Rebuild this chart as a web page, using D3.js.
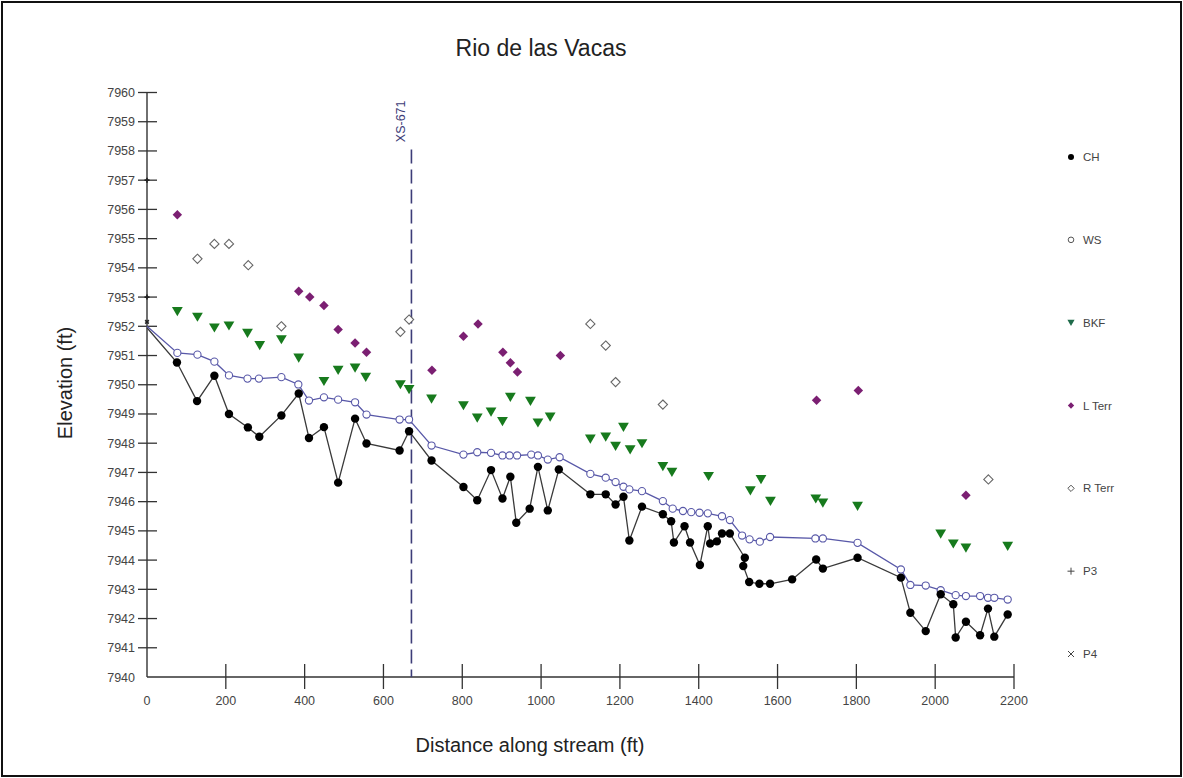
<!DOCTYPE html>
<html>
<head>
<meta charset="UTF-8">
<title>Rio de las Vacas</title>
<script src="https://d3js.org/d3.v7.min.js"></script>
<style>
  body { margin: 0; background: #fff; font-family: "Liberation Sans", Arial, sans-serif; }
  .tick-label { font-size: 12.5px; fill: #444; }
  .leg text { font-size: 11.5px; fill: #444; }
</style>
</head>
<body>
<svg width="1183" height="778"></svg>
<script>
// channel bed (CH)
const chX = [0, 76, 127, 171, 208, 256, 285, 341, 385, 411, 449, 485, 528, 557, 641, 665, 722, 803, 838, 873, 902, 922, 937, 971, 992, 1017, 1045, 1125, 1164, 1189, 1209, 1224, 1256, 1309, 1330, 1337, 1364, 1378, 1403, 1423, 1429, 1446, 1459, 1479, 1517, 1513, 1528, 1554, 1581, 1637, 1698, 1715, 1803, 1913, 1937, 1976, 2014, 2046, 2052, 2078, 2114, 2134, 2150, 2184];
const chY = [7951.95, 7950.76, 7949.44, 7950.31, 7949.0, 7948.54, 7948.22, 7948.95, 7949.7, 7948.18, 7948.55, 7946.65, 7948.84, 7947.99, 7947.75, 7948.41, 7947.41, 7946.5, 7946.05, 7947.08, 7946.11, 7946.85, 7945.28, 7945.76, 7947.19, 7945.7, 7947.1, 7946.25, 7946.25, 7945.9, 7946.17, 7944.67, 7945.83, 7945.57, 7945.33, 7944.6, 7945.16, 7944.6, 7943.83, 7945.16, 7944.57, 7944.64, 7944.91, 7944.91, 7944.08, 7943.8, 7943.25, 7943.19, 7943.19, 7943.34, 7944.02, 7943.71, 7944.08, 7943.4, 7942.2, 7941.57, 7942.83, 7942.49, 7941.35, 7941.89, 7941.43, 7942.34, 7941.38, 7942.14];

// water surface (WS)
const wsX = [0, 77, 128, 171, 208, 255, 284, 341, 384, 411, 449, 485, 528, 557, 641, 665, 722, 803, 838, 873, 902, 920, 939, 975, 992, 1017, 1047, 1125, 1164, 1189, 1209, 1224, 1256, 1309, 1334, 1360, 1381, 1402, 1423, 1459, 1479, 1510, 1529, 1555, 1581, 1696, 1715, 1803, 1913, 1937, 1976, 2014, 2052, 2078, 2114, 2134, 2150, 2184];
const wsY = [7952.0, 7951.09, 7951.03, 7950.79, 7950.32, 7950.21, 7950.21, 7950.26, 7950.01, 7949.46, 7949.57, 7949.49, 7949.4, 7948.98, 7948.81, 7948.81, 7947.92, 7947.61, 7947.69, 7947.67, 7947.58, 7947.58, 7947.58, 7947.61, 7947.58, 7947.44, 7947.52, 7946.95, 7946.82, 7946.67, 7946.51, 7946.42, 7946.36, 7946.02, 7945.76, 7945.68, 7945.64, 7945.62, 7945.6, 7945.5, 7945.37, 7944.84, 7944.71, 7944.63, 7944.79, 7944.74, 7944.74, 7944.59, 7943.68, 7943.15, 7943.13, 7942.97, 7942.8, 7942.77, 7942.77, 7942.71, 7942.71, 7942.65];

// bankfull (BKF)
const bkfX = [77, 128, 171, 208, 255, 286, 341, 385, 449, 485, 528, 555, 643, 665, 722, 803, 838, 873, 902, 922, 973, 992, 1023, 1125, 1164, 1189, 1209, 1226, 1256, 1309, 1332, 1425, 1531, 1558, 1582, 1697, 1715, 1803, 2014, 2046, 2078, 2184];
const bkfY = [7952.51, 7952.32, 7951.95, 7952.02, 7951.77, 7951.35, 7951.55, 7950.92, 7950.12, 7950.5, 7950.58, 7950.26, 7950.01, 7949.84, 7949.52, 7949.29, 7948.87, 7949.07, 7948.75, 7949.58, 7949.44, 7948.7, 7948.9, 7948.15, 7948.22, 7947.9, 7948.55, 7947.78, 7947.99, 7947.21, 7947.01, 7946.87, 7946.38, 7946.76, 7946.02, 7946.1, 7945.96, 7945.85, 7944.9, 7944.56, 7944.42, 7944.48];

// left terrace (L Terr)
const ltX = [77, 385, 413, 449, 485, 528, 557, 723, 803, 840, 903, 922, 940, 1049, 1699, 1805, 2078];
const ltY = [7955.82, 7953.2, 7953.0, 7952.71, 7951.89, 7951.43, 7951.11, 7950.5, 7951.66, 7952.08, 7951.11, 7950.75, 7950.44, 7951.0, 7949.47, 7949.8, 7946.22];

// right terrace (R Terr)
const rtX = [128, 171, 208, 257, 341, 643, 665, 1125, 1164, 1189, 1309, 2135];
const rtY = [7954.31, 7954.82, 7954.82, 7954.09, 7952.0, 7951.81, 7952.23, 7952.08, 7951.34, 7950.09, 7949.32, 7946.76];

// P3 / P4
const p3X = [0, 0];
const p3Y = [7957, 7953];
const p4X = [0];
const p4Y = [7952.15];

const xTicks = [0, 200, 400, 600, 800, 1000, 1200, 1400, 1600, 1800, 2000, 2200];
const yTicks = d3.range(7940, 7961, 1);
const legendNames = ["CH", "WS", "BKF", "L Terr", "R Terr", "P3", "P4"];
const xsStation = 671;
const xsLabel = "XS-671";

const zip = (xs, ys) => xs.map((x, i) => ({ x: x, y: ys[i] }));

const svg = d3.select("svg");
const W = 1183, H = 778;

// outer frame
svg.append("rect").attr("x", 2).attr("y", 2).attr("width", W - 4).attr("height", H - 4)
  .attr("fill", "none").attr("stroke", "#111").attr("stroke-width", 2);

const x = d3.scaleLinear().domain([0, 2200]).range([147, 1014]);
const y = d3.scaleLinear().domain([7940, 7960]).range([677, 92.5]);

// title + axis labels
svg.append("text").attr("x", 541).attr("y", 56).attr("text-anchor", "middle")
  .style("font-size", "23px").style("fill", "#222").text("Rio de las Vacas");
svg.append("text").attr("x", 530).attr("y", 752).attr("text-anchor", "middle")
  .style("font-size", "20px").style("fill", "#222").text("Distance along stream (ft)");
svg.append("text").attr("transform", "translate(72,383) rotate(-90)").attr("text-anchor", "middle")
  .style("font-size", "20px").style("fill", "#222").text("Elevation (ft)");

// axes
const axisG = svg.append("g");
axisG.append("line").attr("x1", x(0)).attr("x2", x(0)).attr("y1", y(7960)).attr("y2", y(7940))
  .attr("stroke", "#333").attr("stroke-width", 1.4);
axisG.append("line").attr("x1", x(0)).attr("x2", x(2200)).attr("y1", y(7940)).attr("y2", y(7940))
  .attr("stroke", "#333").attr("stroke-width", 1.4);

axisG.selectAll(".yt").data(yTicks.filter(d => d > 7940)).enter().append("line")
  .attr("x1", x(0) - 9).attr("x2", x(0) + 10).attr("y1", d => y(d)).attr("y2", d => y(d))
  .attr("stroke", "#333").attr("stroke-width", 1.3);
axisG.selectAll(".yl").data(yTicks).enter().append("text")
  .attr("class", "tick-label").attr("x", 135).attr("y", d => y(d) + 4.5).attr("text-anchor", "end")
  .text(d => d);

axisG.selectAll(".xt").data(xTicks.filter(d => d > 0)).enter().append("line")
  .attr("x1", d => x(d)).attr("x2", d => x(d)).attr("y1", y(7940) - 13).attr("y2", y(7940) + 12)
  .attr("stroke", "#333").attr("stroke-width", 1.3);
axisG.selectAll(".xl").data(xTicks).enter().append("text")
  .attr("class", "tick-label").attr("x", d => x(d)).attr("y", 705).attr("text-anchor", "middle")
  .text(d => d);

// cross-section marker
svg.append("line").attr("x1", x(xsStation)).attr("x2", x(xsStation)).attr("y1", y(7958.05)).attr("y2", y(7940))
  .attr("stroke", "#3d3d78").attr("stroke-width", 1.6).attr("stroke-dasharray", "14,6");
svg.append("text").attr("transform", `translate(${x(xsStation) - 6},${y(7958.3)}) rotate(-90)`)
  .style("font-size", "12.5px").style("fill", "#3d3d78").text(xsLabel);

// lines
const line = d3.line().x(d => x(d.x)).y(d => y(d.y));
svg.append("path").datum(zip(chX, chY)).attr("d", line)
  .attr("fill", "none").attr("stroke", "#3a3a3a").attr("stroke-width", 1.3);
svg.append("path").datum(zip(wsX, wsY)).attr("d", line)
  .attr("fill", "none").attr("stroke", "#5858a8").attr("stroke-width", 1.3);

const sym = (type, size) => d3.symbol().type(type).size(size);
const triDown = { draw(ctx, size) { const s = Math.sqrt(size) * 0.9; ctx.moveTo(-s, -s * 0.8); ctx.lineTo(s, -s * 0.8); ctx.lineTo(0, s * 0.9); ctx.closePath(); } };
const diamond = { draw(ctx, size) { const s = Math.sqrt(size) / 2; ctx.moveTo(0, -s); ctx.lineTo(s, 0); ctx.lineTo(0, s); ctx.lineTo(-s, 0); ctx.closePath(); } };

// BKF
svg.append("g").selectAll("path").data(zip(bkfX, bkfY)).enter().append("path")
  .attr("transform", d => `translate(${x(d.x)},${y(d.y)})`)
  .attr("d", sym(triDown, 36)).attr("fill", "#177a1d");
// L Terr
svg.append("g").selectAll("path").data(zip(ltX, ltY)).enter().append("path")
  .attr("transform", d => `translate(${x(d.x)},${y(d.y)})`)
  .attr("d", sym(diamond, 90)).attr("fill", "#7b1f72");
// R Terr
svg.append("g").selectAll("path").data(zip(rtX, rtY)).enter().append("path")
  .attr("transform", d => `translate(${x(d.x)},${y(d.y)})`)
  .attr("d", sym(diamond, 85)).attr("fill", "#fff").attr("stroke", "#666").attr("stroke-width", 1.1);
// WS
svg.append("g").selectAll("circle").data(zip(wsX, wsY).slice(1)).enter().append("circle")
  .attr("cx", d => x(d.x)).attr("cy", d => y(d.y)).attr("r", 3.6)
  .attr("fill", "#fff").attr("stroke", "#5858a8").attr("stroke-width", 1.1);
// CH
svg.append("g").selectAll("circle").data(zip(chX, chY).slice(1)).enter().append("circle")
  .attr("cx", d => x(d.x)).attr("cy", d => y(d.y)).attr("r", 4.2).attr("fill", "#000");
// P3, P4
svg.append("g").selectAll("path").data(zip(p3X, p3Y)).enter().append("path")
  .attr("transform", d => `translate(${x(d.x)},${y(d.y)})`)
  .attr("d", sym(d3.symbolCross, 14)).attr("fill", "#222");
svg.append("g").selectAll("path").data(zip(p4X, p4Y)).enter().append("path")
  .attr("transform", d => `translate(${x(d.x)},${y(d.y)}) rotate(45)`)
  .attr("d", sym(d3.symbolCross, 14)).attr("fill", "#222");

// legend
const legY = d3.scalePoint().domain(legendNames).range([157, 654]);
const leg = svg.append("g").attr("class", "leg");
legendNames.forEach(name => {
  const g = leg.append("g").attr("transform", `translate(1071,${legY(name)})`);
  if (name === "CH") g.append("circle").attr("r", 3).attr("fill", "#000");
  if (name === "WS") g.append("circle").attr("r", 2.8).attr("fill", "#fff").attr("stroke", "#555").attr("stroke-width", 1);
  if (name === "BKF") g.append("path").attr("d", sym(triDown, 16)).attr("fill", "#1f6b4a");
  if (name === "L Terr") g.append("path").attr("d", sym(diamond, 40)).attr("fill", "#7b1f72");
  if (name === "R Terr") g.append("path").attr("d", sym(diamond, 40)).attr("fill", "#fff").attr("stroke", "#555");
  if (name === "P3") g.append("path").attr("d", "M-3.5,0H3.5M0,-3.5V3.5").attr("stroke", "#444").attr("stroke-width", 1);
  if (name === "P4") g.append("path").attr("d", "M-3,-3L3,3M-3,3L3,-3").attr("stroke", "#444").attr("stroke-width", 1);
  g.append("text").attr("x", 12).attr("y", 4).text(name);
});
</script>
</body>
</html>
